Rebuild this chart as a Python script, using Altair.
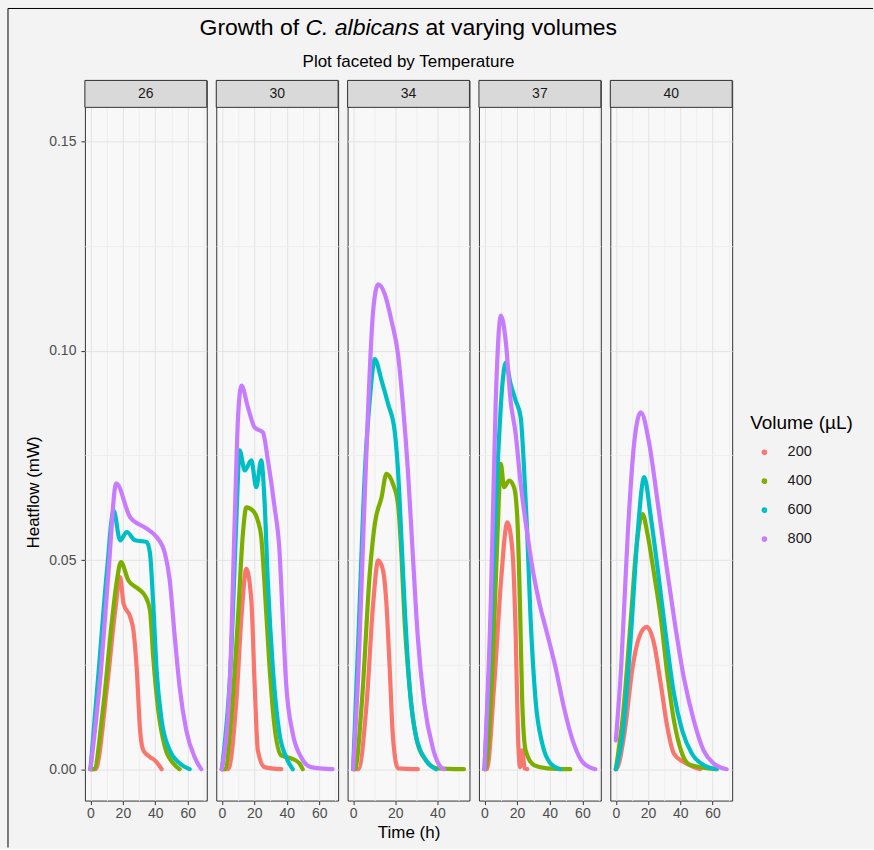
import altair as alt
import pandas as pd

# ---------------------------------------------------------------------------
# Data: heat flow (mW) against time (h) for each temperature / volume pair
# ---------------------------------------------------------------------------
temperatures = [26, 30, 34, 37, 40]
volumes = ["200", "400", "600", "800"]
volume_colors = ["#F8766D", "#7CAE00", "#00BFC4", "#C77CFF"]

# 26 degrees
t26_200 = [0, 3.1, 10.2, 15.3, 18.3, 20.4, 24.5, 26.5, 28.6, 30.6, 32.6, 36.7, 39.8, 43.9]
q26_200 = [0, 0, 0.0196, 0.038, 0.0459, 0.0396, 0.0364, 0.0332, 0.0236, 0.0093, 0.0045, 0.0029, 0.0021, 0]
t26_400 = [0, 2.0, 8.1, 13.3, 16.3, 18.8, 23.4, 29.5, 33.6, 36.7, 38.7, 41.8, 45.9, 51.0, 55.0]
q26_400 = [0, 0, 0.0157, 0.0356, 0.0451, 0.0495, 0.0451, 0.0431, 0.0415, 0.038, 0.0268, 0.0141, 0.0053, 0.0014, 0]
t26_600 = [0, 5.1, 10.2, 14.3, 18.3, 22.4, 27.5, 34.7, 36.7, 38.7, 40.8, 43.9, 48.9, 55.0, 61.2]
q26_600 = [0, 0.0236, 0.0475, 0.0618, 0.0547, 0.0567, 0.0547, 0.0543, 0.0516, 0.0396, 0.0236, 0.0117, 0.0045, 0.0014, 0]
t26_800 = [0, 6.5, 11.2, 15.9, 24.5, 34.7, 40.8, 45.9, 48.9, 52.0, 55.0, 59.1, 64.2, 68.3]
q26_800 = [0, 0.0236, 0.0475, 0.0683, 0.0602, 0.0575, 0.0555, 0.0516, 0.0451, 0.0316, 0.0196, 0.0093, 0.0029, 0]

# 30 degrees
t30_200 = [0, 3.9, 9.0, 12.1, 15.1, 18.2, 20.2, 22.2, 26.3, 36.6]
q30_200 = [0, 0, 0.0165, 0.0364, 0.0479, 0.0403, 0.0205, 0.0045, 0.0005, 0]
t30_400 = [0, 1.8, 5.9, 10.0, 13.0, 15.1, 19.2, 22.2, 24.3, 26.3, 29.4, 32.5, 36.6, 42.7, 47.8, 49.8]
q30_400 = [0, 0, 0.0125, 0.0364, 0.0563, 0.0626, 0.0618, 0.0594, 0.0555, 0.0443, 0.0244, 0.0101, 0.0033, 0.0026, 0.0014, 0]
t30_600 = [0, 5.9, 9.0, 11.0, 14.1, 18.2, 21.2, 24.3, 26.3, 28.4, 31.4, 35.5, 39.6, 43.7]
q30_600 = [0, 0.0284, 0.0602, 0.0762, 0.0714, 0.0738, 0.0674, 0.0738, 0.0642, 0.0443, 0.0244, 0.0085, 0.0029, 0]
t30_800 = [0, 4.9, 8.0, 10.0, 12.1, 16.1, 20.2, 25.3, 28.4, 32.5, 35.5, 37.5, 39.6, 43.7, 48.8, 54.9, 68.2]
q30_800 = [0, 0.0205, 0.0602, 0.0841, 0.0917, 0.0865, 0.0817, 0.0805, 0.0738, 0.0626, 0.0523, 0.0364, 0.0205, 0.0085, 0.0029, 0.0005, 0]

# 34 degrees
t34_200 = [0, 2.5, 6.4, 9.5, 11.9, 14.2, 15.8, 17.4, 18.9, 21.3, 30.7]
q34_200 = [0, 0, 0.0157, 0.0396, 0.0499, 0.0475, 0.0396, 0.0236, 0.0077, 0.0002, 0]
t34_400 = [0, 0.9, 4.1, 8.0, 10.3, 13.5, 15.8, 18.9, 21.3, 22.9, 24.4, 26.8, 29.9, 34.6, 40.0, 52.6]
q34_400 = [0, 0, 0.0157, 0.0475, 0.0587, 0.065, 0.0706, 0.0682, 0.0634, 0.0515, 0.0356, 0.0196, 0.0077, 0.0021, 0.0002, 0]
t34_600 = [0, 2.5, 5.6, 8.0, 10.3, 13.5, 16.6, 19.7, 21.3, 22.9, 24.4, 26.8, 29.9, 34.6, 39.3]
q34_600 = [0, 0.0316, 0.0714, 0.0889, 0.098, 0.0929, 0.0873, 0.0809, 0.0714, 0.0555, 0.0396, 0.0196, 0.0077, 0.0021, 0]
t34_800 = [0, 2.5, 4.8, 7.2, 9.5, 11.9, 15.0, 18.2, 21.3, 23.6, 26.0, 28.3, 30.7, 33.8, 37.7, 41.6, 43.2]
q34_800 = [0, 0.0236, 0.0555, 0.0873, 0.1096, 0.1159, 0.1136, 0.1072, 0.0992, 0.0873, 0.0714, 0.0515, 0.0316, 0.0157, 0.0053, 0.0005, 0]

# 37 degrees
t37_200 = [0, 1.4, 6.0, 10.0, 14.0, 17.1, 19.1, 20.5, 21.8, 23.2, 24.6, 26.2]
q37_200 = [0, 0, 0.0205, 0.0443, 0.059, 0.0523, 0.0324, 0.0085, 0.0005, 0.0045, 0.0002, 0]
t37_400 = [0, 0.4, 4.9, 8.0, 10.0, 12.0, 15.1, 18.1, 20.1, 21.7, 23.1, 25.2, 30.3, 38.4, 52.6]
q37_400 = [0, 0, 0.0244, 0.0563, 0.073, 0.0674, 0.069, 0.0674, 0.0602, 0.0403, 0.0165, 0.0045, 0.001, 0.0002, 0]
t37_600 = [0, 3.9, 8.0, 11.0, 13.0, 16.0, 19.1, 22.2, 24.2, 26.2, 28.2, 31.3, 35.4, 40.4, 46.5]
q37_600 = [0, 0.0324, 0.0722, 0.0921, 0.0972, 0.0921, 0.0881, 0.0841, 0.0722, 0.0563, 0.0364, 0.0165, 0.0061, 0.0014, 0]
t37_800 = [0, 3.9, 6.9, 10.0, 13.0, 16.0, 19.1, 22.2, 26.2, 29.3, 33.3, 38.4, 43.5, 48.6, 54.7, 60.8, 67.9]
q37_800 = [0, 0.0403, 0.0881, 0.1084, 0.1024, 0.0881, 0.0801, 0.0682, 0.0563, 0.0483, 0.0403, 0.0324, 0.0244, 0.0149, 0.0061, 0.0014, 0]

# 40 degrees
t40_200 = [0, 0.2, 5.3, 10.4, 14.5, 19.2, 23.7, 27.8, 31.9, 36.0, 42.1, 48.3, 52.3]
q40_200 = [0, 0, 0.0085, 0.0244, 0.0316, 0.034, 0.03, 0.0205, 0.0101, 0.0037, 0.0017, 0.0005, 0]
t40_400 = [0, 4.3, 9.4, 12.5, 16.6, 19.6, 23.7, 27.8, 31.9, 36.0, 41.1, 46.2, 62.6]
q40_400 = [0, 0.0125, 0.0364, 0.052, 0.061, 0.0563, 0.0467, 0.0364, 0.0228, 0.0117, 0.0037, 0.001, 0]
t40_600 = [0, 4.3, 9.4, 13.5, 17.6, 21.7, 25.8, 30.9, 36.0, 41.1, 47.2, 54.4, 62.6]
q40_600 = [0, 0.0085, 0.0324, 0.0563, 0.0698, 0.0602, 0.0483, 0.0324, 0.0181, 0.0093, 0.0037, 0.001, 0]
t40_800 = [0, 3.3, 7.4, 11.5, 15.5, 20.7, 25.8, 30.9, 36.0, 42.1, 48.3, 54.4, 60.6, 68.7]
q40_800 = [0.0069, 0.0244, 0.0563, 0.0785, 0.0853, 0.0778, 0.0642, 0.0499, 0.0364, 0.022, 0.0117, 0.0045, 0.0014, 0]

series = {
    (26, "200"): (t26_200, q26_200), (26, "400"): (t26_400, q26_400),
    (26, "600"): (t26_600, q26_600), (26, "800"): (t26_800, q26_800),
    (30, "200"): (t30_200, q30_200), (30, "400"): (t30_400, q30_400),
    (30, "600"): (t30_600, q30_600), (30, "800"): (t30_800, q30_800),
    (34, "200"): (t34_200, q34_200), (34, "400"): (t34_400, q34_400),
    (34, "600"): (t34_600, q34_600), (34, "800"): (t34_800, q34_800),
    (37, "200"): (t37_200, q37_200), (37, "400"): (t37_400, q37_400),
    (37, "600"): (t37_600, q37_600), (37, "800"): (t37_800, q37_800),
    (40, "200"): (t40_200, q40_200), (40, "400"): (t40_400, q40_400),
    (40, "600"): (t40_600, q40_600), (40, "800"): (t40_800, q40_800),
}

rows = []
for (temp, vol), (ts, qs) in series.items():
    for t, q in zip(ts, qs):
        rows.append({"Temperature": temp, "Volume": vol, "Time": t, "Heatflow": q})
df = pd.DataFrame(rows)

# ---------------------------------------------------------------------------
# Layout and style
# ---------------------------------------------------------------------------
FONT = "Liberation Sans"
PANEL_W = 122
PANEL_H = 694
STRIP_H = 27
GAP = 9.5
Y_LO, Y_HI = -0.0075, 0.1582
Y_TOP = Y_HI + STRIP_H * (Y_HI - Y_LO) / PANEL_H   # room for the strip above the panel
y_grid = [0, 0.025, 0.05, 0.075, 0.1, 0.125, 0.15]

GRID_MAJOR = "#E3E3E3"
GRID_MINOR = "#EEEEEE"
TEXT_GREY = "#4D4D4D"
BORDER = "#333333"

x_minor_test = "datum.value % 20 !== 0"
y_minor_test = "abs(datum.value * 20 - round(datum.value * 20)) > 0.001"

color_scale = alt.Scale(domain=volumes, range=volume_colors)
legend = alt.Legend(
    title="Volume (µL)", orient="none", legendX=666, legendY=334,
    titleFontSize=19, titleFontWeight="normal", titleColor="#000000", titleFont=FONT,
    titlePadding=12, labelFontSize=14.5, labelColor="#1A1A1A", labelFont=FONT,
    symbolType="circle", symbolSize=10, symbolStrokeWidth=2.5, symbolOffset=7,
    labelOffset=16, rowPadding=14,
)


def panel(idx, temp):
    sub = df[df["Temperature"] == temp]
    lo, hi = sub["Time"].min(), sub["Time"].max()
    pad = 0.05 * (hi - lo)
    x_dom = [lo - pad, hi + pad]
    x_vals = [v for v in range(0, 80, 10) if x_dom[0] <= v <= x_dom[1]]

    x_axis = alt.Axis(
        values=x_vals, labelExpr=f"{x_minor_test} ? '' : datum.label",
        tickOpacity={"condition": {"test": x_minor_test, "value": 0}, "value": 1},
        gridColor={"condition": {"test": x_minor_test, "value": GRID_MINOR}, "value": GRID_MAJOR},
        gridWidth=1, domain=False, tickSize=4, tickColor=BORDER,
        labelColor=TEXT_GREY, labelFontSize=14, labelFont=FONT, labelPadding=2,
        labelFlush=False, labelOverlap=False,
        title="Time (h)" if idx == 2 else None,
        titleFontSize=17, titleFontWeight="normal", titleColor="#000000", titleFont=FONT,
        titlePadding=4,
    )
    if idx == 0:
        y_axis = alt.Axis(
            values=y_grid, format=".2f", labelExpr=f"{y_minor_test} ? '' : datum.label",
            tickOpacity={"condition": {"test": y_minor_test, "value": 0}, "value": 1},
            gridColor={"condition": {"test": y_minor_test, "value": GRID_MINOR}, "value": GRID_MAJOR},
            domain=False, tickSize=4, tickColor=BORDER,
            labelColor=TEXT_GREY, labelFontSize=14, labelFont=FONT, labelPadding=5,
            labelOverlap=False, labelFlush=False,
            title="Heatflow (mW)", titleFontSize=17, titleFontWeight="normal",
            titleColor="#000000", titleFont=FONT, titlePadding=6, titleY=412,
        )
    else:
        y_axis = alt.Axis(
            values=y_grid, labels=False, ticks=False, domain=False, title=None,
            gridColor={"condition": {"test": y_minor_test, "value": GRID_MINOR}, "value": GRID_MAJOR},
        )

    lines = alt.Chart(sub).mark_line(
        strokeWidth=4.2, interpolate="monotone", strokeCap="round", strokeJoin="round"
    ).encode(
        x=alt.X("Time:Q", scale=alt.Scale(domain=x_dom, nice=False, zero=False), axis=x_axis),
        y=alt.Y("Heatflow:Q", scale=alt.Scale(domain=[Y_LO, Y_TOP], nice=False, zero=False), axis=y_axis),
        color=alt.Color("Volume:N", scale=color_scale, legend=legend),
    )

    label_df = pd.DataFrame({"label": [str(temp)]})
    strip = alt.Chart(label_df).mark_rect(
        fill="#D9D9D9", stroke=BORDER, strokeWidth=1
    ).encode(
        x=alt.value(0), x2=alt.value(PANEL_W), y=alt.value(0), y2=alt.value(STRIP_H)
    )
    strip_text = alt.Chart(label_df).mark_text(
        font=FONT, fontSize=14, color="#1A1A1A", align="center", baseline="middle"
    ).encode(x=alt.value(PANEL_W / 2), y=alt.value(STRIP_H / 2), text="label:N")

    layers = [lines, strip, strip_text]

    if idx == 0:
        # outer figure frame, left and top edges
        layers.append(alt.Chart(label_df).mark_rule(color="#000000", strokeWidth=1).encode(
            x=alt.value(-77), y=alt.value(-72), y2=alt.value(768)))
        layers.append(alt.Chart(label_df).mark_rule(color="#000000", strokeWidth=1).encode(
            x=alt.value(-77), x2=alt.value(789), y=alt.value(-72)))

    if idx == 2:
        # main title with italic species name, and subtitle
        title_y = -52
        start = PANEL_W / 2 - 209.25
        pieces = [("Growth of", start, "normal"),
                  ("C. albicans", start + 106.1, "italic"),
                  ("at varying volumes", start + 106.1 + 120.2, "normal")]
        for txt, xpos, style in pieces:
            layers.append(alt.Chart(pd.DataFrame({"t": [txt]})).mark_text(
                font=FONT, fontSize=23, fontStyle=style, color="#000000",
                align="left", baseline="middle",
            ).encode(x=alt.value(xpos), y=alt.value(title_y), text="t:N"))
        layers.append(alt.Chart(pd.DataFrame({"t": ["Plot faceted by Temperature"]})).mark_text(
            font=FONT, fontSize=17, color="#000000", align="center", baseline="middle",
        ).encode(x=alt.value(PANEL_W / 2), y=alt.value(-18), text="t:N"))

    return alt.layer(*layers).properties(width=PANEL_W, height=PANEL_H + STRIP_H)


chart = alt.hconcat(
    *[panel(i, t) for i, t in enumerate(temperatures)], spacing=GAP, bounds="flush"
).resolve_scale(
    x="independent", y="independent"
).configure(
    font=FONT, background="#F3F3F3",
    padding={"left": 7, "top": 7, "right": 0, "bottom": 0},
).configure_view(
    fill="#F8F8F8", stroke=BORDER, strokeWidth=1
)

chart.save("out.html", embed_options={"renderer": "svg", "actions": False})
